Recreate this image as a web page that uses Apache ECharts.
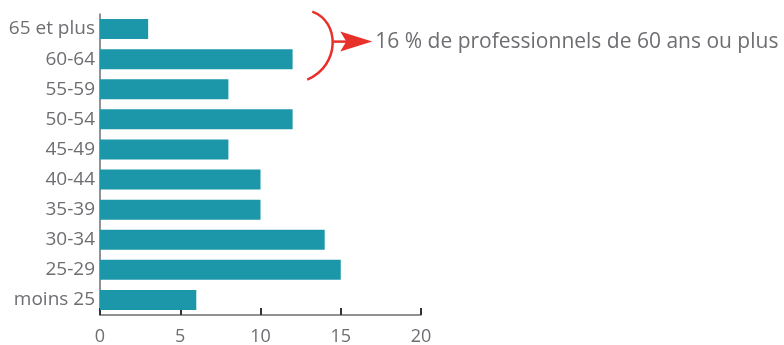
<!DOCTYPE html>
<html>
<head>
<meta charset="utf-8">
<script src="https://cdn.jsdelivr.net/npm/echarts@6/dist/echarts.min.js"></script>
<style>
  html, body { margin: 0; padding: 0; background: #fff; }
  #chart { width: 784px; height: 345px; }
</style>
</head>
<body>
<div id="chart"></div>
<script>
// Age groups, bottom to top
const ageGroups = ['moins 25', '25-29', '30-34', '35-39', '40-44', '45-49', '50-54', '55-59', '60-64', '65 et plus'];
// Share of professionals (%) per age group
const shares = [6, 15, 14, 10, 10, 8, 12, 8, 12, 3];
const xTicks = [0, 5, 10, 15, 20];
const noteText = '16 % de professionnels de 60 ans ou plus';

const textGray = '#6d6e71';
const barColor = '#1c97a9';
const red = '#e8312a';
const fontFamily = '"Open Sans", "Noto Sans", sans-serif';

const chart = echarts.init(document.getElementById('chart'), null, { renderer: 'canvas' });

chart.setOption({
  animation: false,
  grid: {
    left: 100, top: 14, width: 321, height: 301,
    containLabel: false,
    outerBoundsMode: 'none'
  },
  xAxis: {
    type: 'value',
    min: xTicks[0],
    max: xTicks[xTicks.length - 1],
    interval: xTicks[1] - xTicks[0],
    axisLine: { show: true, lineStyle: { color: '#6d6e71', width: 1.5 } },
    axisTick: { show: true, inside: true, length: 7, lineStyle: { color: '#333', width: 2 } },
    splitLine: { show: false },
    axisLabel: { color: textGray, fontSize: 18, fontFamily, margin: 13 }
  },
  yAxis: {
    type: 'category',
    data: ageGroups,
    axisLine: { show: true, lineStyle: { color: '#6d6e71', width: 1.5 } },
    axisTick: { show: false },
    axisLabel: { color: textGray, fontSize: 19, fontFamily, margin: 5 }
  },
  series: [{
    type: 'bar',
    data: shares,
    barWidth: 20,
    itemStyle: { color: barColor }
  }]
});

// Bracket grouping the two oldest age groups, with an arrow to the note
const n = ageGroups.length;
const topY = chart.convertToPixel({ yAxisIndex: 0 }, ageGroups[n - 1]);
const nextY = chart.convertToPixel({ yAxisIndex: 0 }, ageGroups[n - 2]);
const band = nextY - topY;
const y0 = topY - band * 0.58;
const y1 = nextY + band * 0.68;
const xb = chart.convertToPixel({ xAxisIndex: 0 }, 13.1);
const arrowY = (y0 + y1) / 2 - 4;
const arrowStart = xb + 23;
const arrowTip = xb + 62;

chart.setOption({
  graphic: [
    {
      type: 'bezierCurve',
      shape: {
        x1: xb + 2, y1: y0,
        x2: xb - 3, y2: y1,
        cpx1: xb + 30, cpy1: y0 + 10,
        cpx2: xb + 30, cpy2: y1 - 14
      },
      style: { stroke: red, lineWidth: 2.5, fill: null }
    },
    {
      type: 'line',
      shape: { x1: arrowStart, y1: arrowY, x2: arrowTip - 25, y2: arrowY },
      style: { stroke: red, lineWidth: 2.5 }
    },
    {
      type: 'polygon',
      shape: {
        points: [
          [arrowTip, arrowY],
          [arrowTip - 32, arrowY - 10],
          [arrowTip - 26, arrowY],
          [arrowTip - 32, arrowY + 10]
        ]
      },
      style: { fill: red }
    },
    {
      type: 'text',
      x: arrowTip + 3,
      y: arrowY,
      style: {
        text: noteText,
        fill: textGray,
        fontSize: 21,
        fontFamily,
        verticalAlign: 'middle',
        align: 'left'
      }
    }
  ]
});
</script>
</body>
</html>
